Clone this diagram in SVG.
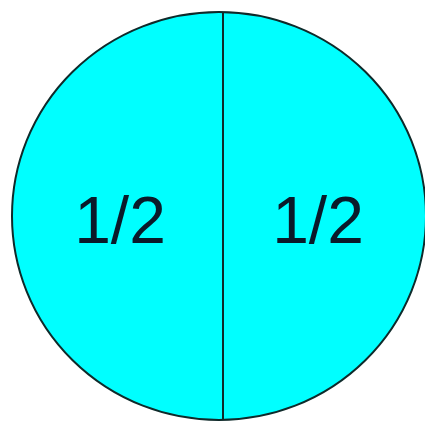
<svg xmlns="http://www.w3.org/2000/svg" width="425" height="424" viewBox="0 0 425 424">
<style>
.lbl{font-family:"Liberation Sans",Arial,sans-serif;font-size:66px;fill:#0a1a2a;text-anchor:middle}
.ln{stroke:#0f2a2a;stroke-width:2}
.pie{fill:#00ffff}
</style>
<rect width="425" height="424" fill="#ffffff"/>
<g id="circle">
<ellipse cx="219" cy="216" rx="207" ry="204" class="ln pie"/>
</g>
<g id="connectors">
<line x1="223" y1="12" x2="223" y2="420" class="ln"/>
</g>
<g id="left-half"><text x="120" y="243" class="lbl">1/2</text></g>
<g id="right-half"><text x="318" y="243" class="lbl">1/2</text></g>
</svg>
